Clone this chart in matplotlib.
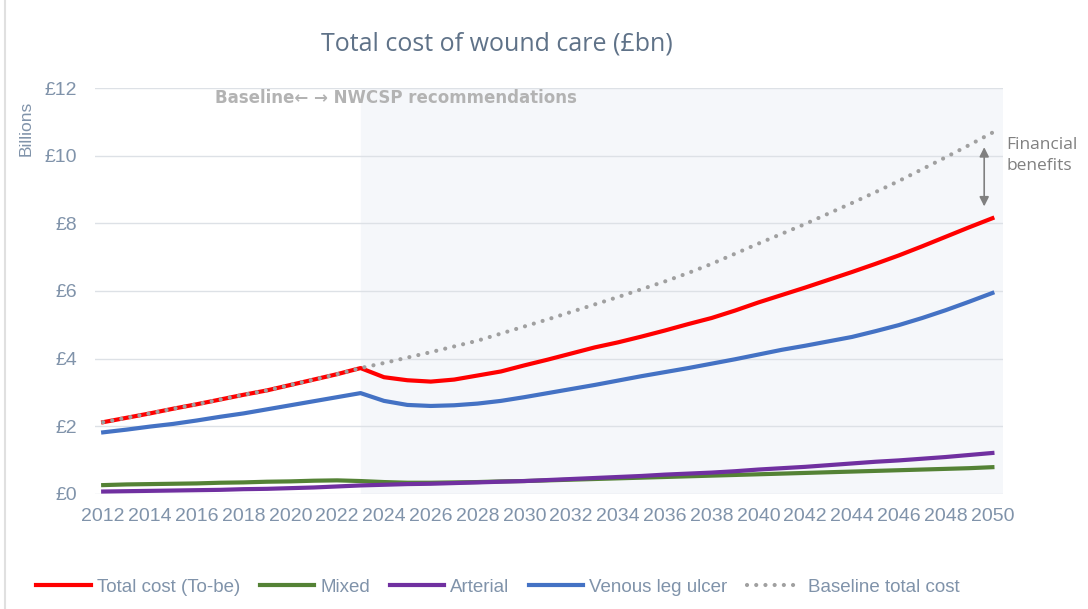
import matplotlib.pyplot as plt
from matplotlib.lines import Line2D

years = list(range(2012, 2051))

total_cost = [2.12, 2.25, 2.38, 2.52, 2.65, 2.79, 2.93, 3.06, 3.22, 3.38, 3.54, 3.72,
              3.45, 3.36, 3.32, 3.38, 3.50, 3.62, 3.80, 3.97, 4.15, 4.33, 4.48, 4.65,
              4.83, 5.02, 5.20, 5.42, 5.66, 5.88, 6.10, 6.33, 6.56, 6.80, 7.05, 7.32,
              7.60, 7.88, 8.15]

mixed = [0.26, 0.28, 0.29, 0.30, 0.31, 0.33, 0.34, 0.36, 0.37, 0.39, 0.40, 0.38,
         0.35, 0.33, 0.33, 0.34, 0.35, 0.37, 0.38, 0.40, 0.42, 0.44, 0.46, 0.48,
         0.50, 0.52, 0.54, 0.56, 0.58, 0.60, 0.62, 0.64, 0.66, 0.68, 0.70, 0.72,
         0.74, 0.76, 0.79]

arterial = [0.07, 0.08, 0.09, 0.10, 0.11, 0.12, 0.14, 0.15, 0.17, 0.19, 0.22, 0.25,
            0.27, 0.29, 0.30, 0.32, 0.34, 0.36, 0.38, 0.41, 0.44, 0.47, 0.50, 0.53,
            0.57, 0.60, 0.63, 0.67, 0.72, 0.76, 0.80, 0.85, 0.90, 0.95, 0.99, 1.04,
            1.09, 1.15, 1.21]

venous = [1.82, 1.90, 1.99, 2.07, 2.17, 2.28, 2.38, 2.50, 2.62, 2.74, 2.86, 2.98,
          2.75, 2.63, 2.60, 2.62, 2.67, 2.75, 2.86, 2.98, 3.10, 3.22, 3.35, 3.48,
          3.60, 3.72, 3.85, 3.98, 4.12, 4.26, 4.38, 4.51, 4.64, 4.81, 4.99, 5.20,
          5.43, 5.68, 5.94]

baseline = [2.12, 2.25, 2.38, 2.52, 2.65, 2.79, 2.93, 3.06, 3.22, 3.38, 3.54, 3.72,
            3.87, 4.03, 4.19, 4.36, 4.53, 4.74, 4.95, 5.16, 5.38, 5.60, 5.82, 6.05,
            6.28, 6.53, 6.80, 7.10, 7.40, 7.69, 7.98, 8.29, 8.60, 8.92, 9.25, 9.60,
            9.95, 10.31, 10.68]

y_ticks = [0, 2, 4, 6, 8, 10, 12]
y_labels = ['£0', '£2', '£4', '£6', '£8', '£10', '£12']
x_ticks = list(range(2012, 2051, 2))

label_col = '#8093aa'
plt.rcParams['font.family'] = ['Liberation Sans', 'DejaVu Sans']

fig = plt.figure(figsize=(10.88, 6.09), dpi=100)
ax = fig.add_axes([0.0873, 0.189, 0.8345, 0.6665])

# shaded NWCSP period
ax.axvspan(2023, 2050.45, color='#f5f7fa', zorder=0)

ax.plot(years, total_cost, color='#ff0000', lw=3, label='Total cost (To-be)', zorder=3)
ax.plot(years, mixed, color='#548235', lw=3, label='Mixed', zorder=3)
ax.plot(years, arterial, color='#7030a0', lw=3, label='Arterial', zorder=3)
ax.plot(years, venous, color='#4472c4', lw=3, label='Venous leg ulcer', zorder=3)
ax.plot(years, baseline, color='#a0a0a0', lw=3, linestyle=(0, (0.01, 2.2)),
        dash_capstyle='round', label='Baseline total cost', zorder=4)

ax.set_xlim(2011.65, 2050.45)
ax.set_ylim(0, 12)
ax.set_yticks(y_ticks)
ax.set_yticklabels(y_labels)
ax.set_xticks(x_ticks)
ax.tick_params(length=0, labelsize=14, labelcolor=label_col)
ax.tick_params(axis='y', pad=13)
ax.tick_params(axis='x', pad=10)
ax.grid(axis='y', color='#dde1e6', lw=1)
ax.set_axisbelow(True)
for s in ax.spines.values():
    s.set_visible(False)

ax.set_ylabel('Billions', color=label_col, fontsize=12.5)
ax.yaxis.set_label_coords(-0.068, 0.9)

fig.text(0.457, 0.928, 'Total cost of wound care (£bn)', ha='center', va='center',
         fontsize=18, color='#5f7288', family=['Open Sans', 'DejaVu Sans'])

ax.text(2016.8, 11.7, 'Baseline\u2190 \u2192 NWCSP recommendations', fontsize=12,
        fontweight='bold', color='#b3b3b3', va='center', ha='left',
        family=['DejaVu Sans'])

# financial benefits arrow
ax.annotate('', xy=(2049.65, 8.5), xytext=(2049.65, 10.25),
            arrowprops=dict(arrowstyle='<|-|>', color='#808080', lw=1.2,
                            mutation_scale=14, shrinkA=0, shrinkB=0))
ax.text(2050.6, 10.0, 'Financial\nbenefits', fontsize=12.5, color='#808080',
        ha='left', va='center', linespacing=1.4, clip_on=False,
        family=['Open Sans', 'DejaVu Sans'])

fig.add_artist(Line2D([0.005, 0.005], [0, 1], color='#e0e0e0', lw=1.5))

fig.legend(loc='lower left', bbox_to_anchor=(0.018, -0.006), ncol=5, frameon=False,
           fontsize=13.5, labelcolor=label_col, handlelength=2.9, handletextpad=0.32,
           columnspacing=1.05)

fig.savefig('out.png', dpi=100)
